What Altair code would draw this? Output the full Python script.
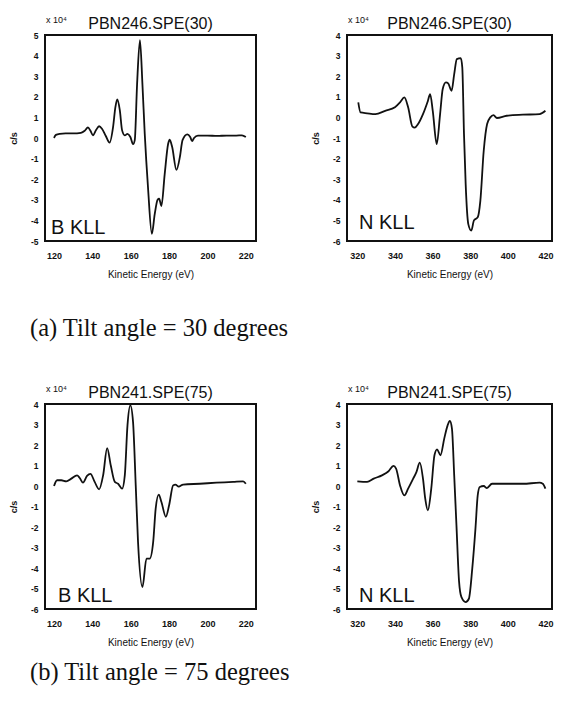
import altair as alt
import pandas as pd

# ---------------- data ----------------
B30_EV = [120, 121, 123, 126, 130, 134, 136, 137.7, 139, 140.3,
          142, 143.5, 145, 147, 149, 150.8, 152, 153, 154.3, 155.5,
          156.9, 158.3, 159.8, 161.2, 162.1, 163.3, 164.8, 166.1, 167.3, 169,
          171, 172.5, 174, 174.8, 176, 177.7, 179.5, 180.3, 181.6, 183.8,
          185.6, 187, 189.5, 191, 192, 193, 195, 200, 205, 210,
          215, 218, 220]
B30_VAL = [0.0, 0.15, 0.2, 0.22, 0.22, 0.25, 0.35, 0.52, 0.35, 0.13,
           0.4, 0.57, 0.45, 0.1, -0.22, 0.54, 1.5, 1.87, 1.35, 0.37,
           0.13, 0.2, 0.05, -0.3, -0.1, 2.6, 4.75, 2.6, 0.2, -2.4,
           -4.65, -3.7, -3.0, -2.95, -3.3, -1.75, -0.28, -0.08, -0.44, -1.55,
           -0.93, -0.1, 0.18, 0.05, -0.15, 0.0, 0.12, 0.12, 0.1, 0.12,
           0.12, 0.13, 0.05]

N30_EV = [320.5, 321.7, 325.2, 329.6, 334.8, 340, 342.7, 345, 347, 349.3,
          350.5, 352.3, 354.9, 357.5, 358.7, 360.1, 362.2, 364, 365.4, 367.1,
          368.3, 370.1, 371.5, 372.9, 375, 375.8, 376.7, 377.6, 379, 380.6,
          382, 384, 385.4, 387.2, 389, 390.7, 392.4, 394.2, 399.4, 408,
          416.9, 420]
N30_VAL = [0.73, 0.24, 0.2, 0.16, 0.32, 0.49, 0.73, 0.97, 0.49, -0.45,
           -0.5, -0.32, 0.16, 0.8, 1.13, 0.32, -1.3, 0.16, 1.38, 1.7,
           1.65, 1.29, 2.1, 2.83, 2.88, 2.43, -0.8, -3.24, -5.18, -5.5,
           -5.0, -4.85, -4.05, -1.62, -0.32, 0.0, 0.11, -0.03, 0.08, 0.13,
           0.16, 0.32]

B75_EV = [120, 121.6, 123.8, 126.4, 129, 132, 133.4, 135.1, 137.2, 139,
          141.2, 143.5, 145.6, 147.7, 149.6, 151.7, 153.4, 155.5, 156.9, 158.3,
          159.8, 161.2, 162.6, 163.8, 166.1, 168.2, 169.9, 171.7, 173, 174.6,
          176, 178.3, 180, 182.1, 183.3, 185, 187.3, 196, 204.7, 213.4,
          218.6, 220]
B75_VAL = [0.0, 0.28, 0.28, 0.23, 0.36, 0.52, 0.39, 0.16, 0.49, 0.59,
           0.2, -0.16, 0.52, 1.85, 1.0, 0.2, 0.11, -0.13, 0.52, 2.96,
           3.93, 3.12, 0.03, -2.73, -4.93, -3.54, -3.54, -2.73, -1.1, -0.42,
           -0.78, -1.5, -0.94, 0.03, 0.07, -0.03, 0.07, 0.11, 0.16, 0.2,
           0.23, 0.11]

N75_EV = [320, 325.2, 328.7, 333.1, 336.6, 339.2, 340.6, 342.7, 345, 347,
          349.7, 351.4, 353.2, 354.9, 356.1, 357.5, 359.3, 361, 362.4, 364.2,
          366.2, 368, 369.2, 370.3, 371.5, 372.7, 374.1, 375.3, 377.6, 379.3,
          381.1, 382.8, 384, 385.1, 387.2, 388.9, 391.6, 399.4, 408.1, 416.9,
          418.6, 420]
N75_VAL = [0.23, 0.2, 0.36, 0.52, 0.72, 0.98, 0.85, 0.03, -0.46, -0.13,
           0.36, 0.68, 1.14, 0.36, -0.62, -1.19, -0.13, 1.5, 1.79, 1.5,
           2.31, 2.96, 3.17, 2.8, 0.52, -1.92, -4.68, -5.41, -5.66, -5.5,
           -4.03, -2.08, -0.46, -0.05, 0.0, -0.1, 0.11, 0.11, 0.11, 0.16,
           0.11, -0.13]

X_TICKS_B = [120, 140, 160, 180, 200, 220]
X_TICKS_N = [320, 340, 360, 380, 400, 420]
Y_TICKS_A = [-5, -4, -3, -2, -1, 0, 1, 2, 3, 4, 5]
Y_TICKS_B = [-6, -5, -4, -3, -2, -1, 0, 1, 2, 3, 4]

TITLES = ["PBN246.SPE(30)", "PBN246.SPE(30)", "PBN241.SPE(75)", "PBN241.SPE(75)"]
LABELS = ["B KLL", "N KLL", "B KLL", "N KLL"]
CAPTIONS = ["(a) Tilt angle = 30 degrees", "(b) Tilt angle = 75 degrees"]
SCALE_NOTE = "x 10\u2074"
X_TITLE = "Kinetic Energy (eV)"
Y_TITLE = "c/s"

SANS = "Liberation Sans"
SERIF = "Liberation Serif"


def text_layer(txt, x, y, size, font, align="left"):
    return alt.Chart(pd.DataFrame({"t": [txt]})).mark_text(
        align=align, baseline="alphabetic", fontSize=size, font=font, color="#111"
    ).encode(text="t:N", x=alt.value(x), y=alt.value(y))


def panel(ev, val, xdom, ydom, xt, yt, title, label, lx, ly, w, h,
          caption=None, cx=0, cy=0):
    df = pd.DataFrame({"ev": ev, "v": val})
    line = alt.Chart(df).mark_line(
        color="#111", strokeWidth=1.8, interpolate="monotone", clip=True
    ).encode(
        x=alt.X("ev:Q",
                scale=alt.Scale(domain=xdom, nice=False, zero=False),
                axis=alt.Axis(values=xt, title=X_TITLE, ticks=False, domain=False,
                              grid=False, labelPadding=10, labelFontSize=9,
                              labelFontWeight="bold", labelFont=SANS,
                              labelColor="#111", titleFont=SANS, titleFontSize=10,
                              titleFontWeight="normal", titleColor="#111",
                              titlePadding=9)),
        y=alt.Y("v:Q",
                scale=alt.Scale(domain=ydom, nice=False, zero=False),
                axis=alt.Axis(values=yt, title=Y_TITLE, ticks=False, domain=False,
                              grid=False, labelPadding=7, labelFontSize=8.5,
                              labelFontWeight="bold", labelFont=SANS,
                              labelColor="#111", labelExpr="'' + datum.value",
                              titleFont=SANS, titleFontSize=9,
                              titleFontWeight="bold", titleColor="#111",
                              titleX=-32, titleY=h / 2, titleBaseline="middle")),
    )
    layers = [line,
              text_layer(title, w / 2, -6, 16, SANS, align="center"),
              text_layer(SCALE_NOTE, 1, -12, 9, SANS),
              text_layer(label, lx, ly, 20, SANS)]
    if caption is not None:
        layers.append(text_layer(caption, cx, cy, 24.5, SERIF))
    return alt.layer(*layers).properties(width=w, height=h)


XD_B = [115.3, 225.3]
XD_N = [314.5, 423.5]

p1 = panel(B30_EV, B30_VAL, XD_B, [-5, 5], X_TICKS_B, Y_TICKS_A, TITLES[0], LABELS[0],
           6, 199, 211, 206, caption=CAPTIONS[0], cx=-15, cy=301)
p2 = panel(N30_EV, N30_VAL, XD_N, [-6, 4], X_TICKS_N, Y_TICKS_B, TITLES[1], LABELS[1],
           12, 194, 205, 206)
p3 = panel(B75_EV, B75_VAL, XD_B, [-6, 4], X_TICKS_B, Y_TICKS_B, TITLES[2], LABELS[2],
           13, 198, 211, 205, caption=CAPTIONS[1], cx=-15, cy=276)
p4 = panel(N75_EV, N75_VAL, XD_N, [-6, 4], X_TICKS_N, Y_TICKS_B, TITLES[3], LABELS[3],
           12, 198, 205, 205)

chart = alt.concat(p1, p2, p3, p4, columns=2, spacing={"row": 163, "column": 91},
                   bounds="flush").properties(
    padding={"left": 0, "top": 7, "right": 0, "bottom": 0},
    background="white",
).configure_view(stroke="#111", strokeWidth=2)

chart.save("out.html", embed_options={"renderer": "svg", "actions": False})
